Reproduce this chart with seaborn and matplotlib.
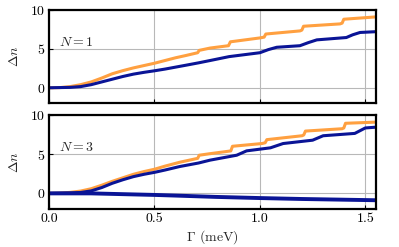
import numpy as np
import pandas as pd
import matplotlib
matplotlib.use("Agg")
import matplotlib.pyplot as plt
import seaborn as sns

# Gamma (meV) and Delta n, N = 1 panel
g_top_orange = [0.0, 0.05, 0.10, 0.15, 0.20, 0.25, 0.30, 0.35, 0.40, 0.45, 0.50, 0.55, 0.60, 0.65, 0.705, 0.712,
                0.764, 0.851, 0.860, 1.00, 1.020, 1.028, 1.19, 1.199, 1.207, 1.38, 1.390, 1.398, 1.55]
n_top_orange = [0.0, 0.02, 0.15, 0.4, 0.75, 1.25, 1.8, 2.2, 2.55, 2.85, 3.15, 3.5, 3.85, 4.15, 4.5, 4.8,
                5.1, 5.4, 5.9, 6.4, 6.5, 6.9, 7.3, 7.4, 7.9, 8.2, 8.3, 8.8, 9.1]
g_top_blue = [0.0, 0.10, 0.15, 0.20, 0.25, 0.30, 0.35, 0.40, 0.45, 0.50, 0.55, 0.60, 0.65, 0.709, 0.764, 0.854,
              1.00, 1.04, 1.08, 1.19, 1.23, 1.27, 1.41, 1.44, 1.475, 1.55]
n_top_blue = [0.0, 0.05, 0.15, 0.4, 0.75, 1.1, 1.45, 1.75, 1.98, 2.18, 2.4, 2.65, 2.9, 3.2, 3.5, 4.0,
              4.5, 4.9, 5.2, 5.4, 5.8, 6.15, 6.45, 6.8, 7.1, 7.2]

# N = 3 panel
g_bot_orange = [0.0, 0.05, 0.10, 0.15, 0.20, 0.25, 0.30, 0.35, 0.40, 0.45, 0.50, 0.55, 0.62, 0.705, 0.712,
                0.764, 0.862, 0.870, 1.01, 1.025, 1.033, 1.20, 1.208, 1.216, 1.39, 1.398, 1.406, 1.55]
n_bot_orange = [0.0, 0.03, 0.13, 0.3, 0.6, 1.05, 1.55, 2.0, 2.45, 2.8, 3.1, 3.5, 4.0, 4.5, 4.9,
                5.1, 5.45, 6.05, 6.4, 6.5, 6.9, 7.4, 7.5, 8.0, 8.3, 8.4, 9.0, 9.15]
g_bot_blue = [0.0, 0.10, 0.15, 0.20, 0.25, 0.30, 0.35, 0.40, 0.45, 0.50, 0.55, 0.62, 0.709, 0.764, 0.89, 0.937,
              1.05, 1.11, 1.25, 1.30, 1.45, 1.50, 1.55]
n_bot_blue = [0.0, 0.05, 0.12, 0.32, 0.75, 1.3, 1.75, 2.15, 2.45, 2.7, 3.0, 3.45, 3.9, 4.27, 4.9, 5.46,
              5.85, 6.4, 6.83, 7.4, 7.7, 8.4, 8.5]
g_bot_blue2 = [0.0, 0.20, 0.35, 0.503, 0.62, 0.788, 1.0, 1.2, 1.55]
n_bot_blue2 = [0.0, 0.0, -0.1, -0.2, -0.3, -0.45, -0.6, -0.72, -0.88]

orange = "#ffa040"
blue = "#0a1496"

sns.set_style("whitegrid")
plt.rcParams["font.family"] = ["cmr10"]
plt.rcParams["mathtext.fontset"] = "cm"
plt.rcParams["axes.formatter.use_mathtext"] = True
plt.rcParams["font.size"] = 10

fig, axes = plt.subplots(2, 1, figsize=(3.99, 2.47), dpi=100, sharex=True)
fig.subplots_adjust(left=0.123, right=0.942, top=0.960, bottom=0.154, hspace=0.13)

panels = [
    ("$N = 1$", [(g_top_orange, n_top_orange, orange, 2.2), (g_top_blue, n_top_blue, blue, 2.2)]),
    ("$N = 3$", [(g_bot_orange, n_bot_orange, orange, 2.2), (g_bot_blue, n_bot_blue, blue, 2.2),
                 (g_bot_blue2, n_bot_blue2, blue, 2.8)]),
]

for ax, (label, curves) in zip(axes, panels):
    for g, n, c, lw in curves:
        df = pd.DataFrame({"g": g, "n": n})
        sns.lineplot(data=df, x="g", y="n", color=c, linewidth=lw, ax=ax, sort=False)
    ax.set_xlim(0, 1.55)
    ax.set_ylim(-2, 10)
    ax.set_yticks([0, 5, 10])
    ax.set_xticks([0, 0.5, 1.0, 1.5])
    ax.grid(True, color="#b8b8b8", linewidth=0.8)
    for s in ax.spines.values():
        s.set_color("black")
        s.set_linewidth(1.6)
    ax.tick_params(direction="in", length=3, width=0.8, colors="black", labelsize=10,
                   bottom=True, left=True, pad=3)
    ax.set_ylabel(r"$\Delta n$", fontsize=10, labelpad=6)
    ax.set_xlabel("")
    ax.text(0.045, 5.0, label, fontsize=10, va="bottom", ha="left")

axes[0].tick_params(labelbottom=False)
axes[1].set_xlabel(r"$\Gamma$ (meV)", fontsize=10, labelpad=2)
axes[1].xaxis.set_major_formatter(matplotlib.ticker.FormatStrFormatter("%.1f"))

fig.savefig("out.png", dpi=100)
